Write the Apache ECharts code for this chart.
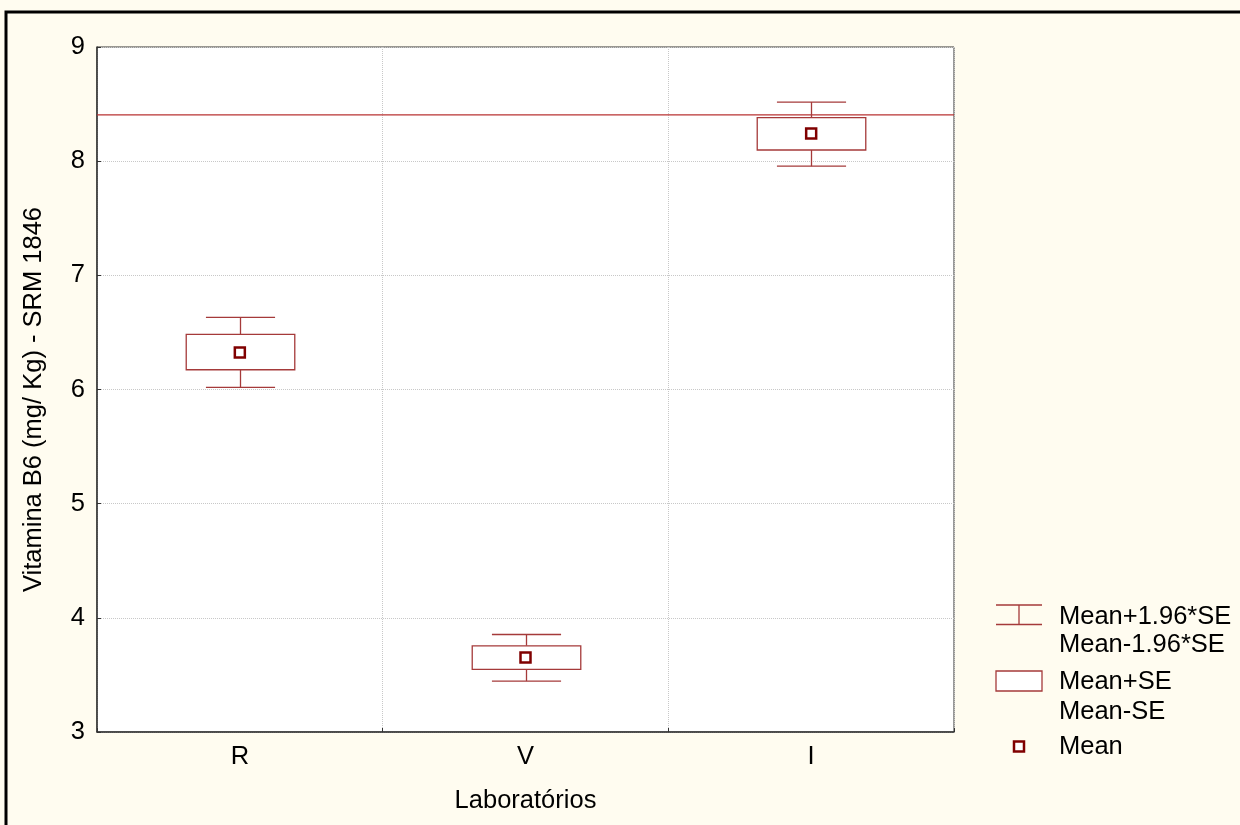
<!DOCTYPE html>
<html>
<head>
<meta charset="utf-8">
<script src="https://cdn.jsdelivr.net/npm/echarts@6/dist/echarts.min.js"></script>
<style>
html,body{margin:0;padding:0;background:#fffcf0;}
#chart{width:1240px;height:825px;}
</style>
</head>
<body>
<div id="chart"></div>
<script>
// ---- data ----
var categories = ['R', 'V', 'I'];
var meanValues = [6.325, 3.653, 8.242];
var seHigh = [6.483, 3.755, 8.382];
var seLow = [6.173, 3.548, 8.098];
var ciHigh = [6.632, 3.854, 8.518];
var ciLow = [6.019, 3.446, 7.956];
var refLine = [8.405];
var yTicks = [3, 9, 1]; // min, max, interval
var legendLabels = ['Mean+1.96*SE', 'Mean-1.96*SE', 'Mean+SE', 'Mean-SE', 'Mean'];

var FONT = 'Liberation Sans, Arial, sans-serif';
var FS = 25.5;
var LINE_COLOR = '#a53a3a';
var MEAN_COLOR = '#800000';
var REF_COLOR = '#b83232';

var boxData = categories.map(function (c, i) {
  return [i, ciLow[i], seLow[i], seHigh[i], ciHigh[i]];
});
var meanData = categories.map(function (c, i) { return [i, meanValues[i]]; });
var refData = [[0, refLine[0]], [1, refLine[0]]];

var chart = echarts.init(document.getElementById('chart'), null, {renderer: 'canvas'});

function renderBox(params, api) {
  var x = api.value(0);
  var pLow = api.coord([x, api.value(1)]);
  var pSeLow = api.coord([x, api.value(2)]);
  var pSeHigh = api.coord([x, api.value(3)]);
  var pHigh = api.coord([x, api.value(4)]);
  var band = api.size([1, 0])[0];
  var bw = band * 0.38;
  var cw = band * 0.242;
  var cx = Math.round(pLow[0]) + 0.5;
  var style = {stroke: LINE_COLOR, lineWidth: 1.3, fill: null};
  return {
    type: 'group',
    children: [
      {type: 'line', shape: {x1: cx, y1: pHigh[1], x2: cx, y2: pSeHigh[1]}, style: style},
      {type: 'line', shape: {x1: cx, y1: pSeLow[1], x2: cx, y2: pLow[1]}, style: style},
      {type: 'line', shape: {x1: cx - cw / 2, y1: pHigh[1], x2: cx + cw / 2, y2: pHigh[1]}, style: style},
      {type: 'line', shape: {x1: cx - cw / 2, y1: pLow[1], x2: cx + cw / 2, y2: pLow[1]}, style: style},
      {type: 'rect', shape: {x: cx - bw / 2, y: pSeHigh[1], width: bw, height: pSeLow[1] - pSeHigh[1]},
        style: {stroke: LINE_COLOR, lineWidth: 1.3, fill: '#ffffff'}}
    ]
  };
}

// legend graphics
var lx = 996, lw = 46, tx = 1059;
var tfont = FS + 'px ' + FONT;
var legendGraphic = [
  {type: 'line', shape: {x1: lx, y1: 605, x2: lx + lw, y2: 605}, style: {stroke: LINE_COLOR, lineWidth: 1.3}},
  {type: 'line', shape: {x1: lx, y1: 624.5, x2: lx + lw, y2: 624.5}, style: {stroke: LINE_COLOR, lineWidth: 1.3}},
  {type: 'line', shape: {x1: lx + lw / 2, y1: 605, x2: lx + lw / 2, y2: 624.5}, style: {stroke: LINE_COLOR, lineWidth: 1.3}},
  {type: 'text', x: tx, y: 616.5, style: {text: legendLabels[0], font: tfont, fill: '#000', textVerticalAlign: 'middle'}},
  {type: 'text', x: tx, y: 645, style: {text: legendLabels[1], font: tfont, fill: '#000', textVerticalAlign: 'middle'}},
  {type: 'rect', shape: {x: lx, y: 671, width: lw, height: 20}, style: {stroke: LINE_COLOR, lineWidth: 1.3, fill: '#fff'}},
  {type: 'text', x: tx, y: 681.5, style: {text: legendLabels[2], font: tfont, fill: '#000', textVerticalAlign: 'middle'}},
  {type: 'text', x: tx, y: 711.5, style: {text: legendLabels[3], font: tfont, fill: '#000', textVerticalAlign: 'middle'}},
  {type: 'rect', shape: {x: lx + lw / 2 - 5, y: 741.5, width: 10, height: 10}, style: {stroke: MEAN_COLOR, lineWidth: 2.5, fill: '#fff'}},
  {type: 'text', x: tx, y: 746.5, style: {text: legendLabels[4], font: tfont, fill: '#000', textVerticalAlign: 'middle'}},
  {type: 'rect', shape: {x: 6, y: 12, width: 1250, height: 830}, style: {stroke: '#000', lineWidth: 3, fill: null}, z: 100}
];

var option = {
  backgroundColor: '#fffcf0',
  animation: false,
  textStyle: {fontFamily: FONT},
  grid: {left: 97, top: 47, right: 286, bottom: 93, show: true, backgroundColor: '#ffffff', borderColor: '#333', borderWidth: 1},
  xAxis: [{
    type: 'category',
    data: categories,
    boundaryGap: true,
    name: 'Laboratórios',
    nameLocation: 'middle',
    nameGap: 56,
    nameTextStyle: {fontSize: FS, color: '#000', fontFamily: FONT},
    axisLine: {lineStyle: {color: '#333', width: 1.5}},
    axisTick: {show: true, inside: true, length: 4, lineStyle: {color: '#333'}},
    axisLabel: {fontSize: FS, color: '#000', margin: 12, fontFamily: FONT},
    splitLine: {show: true, lineStyle: {color: '#c8c8c8', type: 'dotted', width: 1}}
  }, {
    type: 'value',
    min: 0,
    max: 1,
    show: false
  }],
  yAxis: {
    type: 'value',
    min: yTicks[0],
    max: yTicks[1],
    interval: yTicks[2],
    name: 'Vitamina B6 (mg/ Kg) - SRM 1846',
    nameLocation: 'middle',
    nameGap: 50,
    nameTextStyle: {fontSize: FS, color: '#000', fontFamily: FONT, padding: [0, 20, 0, 0]},
    axisLine: {show: true, lineStyle: {color: '#333', width: 1.5}},
    axisTick: {show: true, inside: true, length: 4, lineStyle: {color: '#333'}},
    axisLabel: {fontSize: FS, color: '#000', margin: 12, fontFamily: FONT},
    splitLine: {show: true, lineStyle: {color: '#c8c8c8', type: 'dotted', width: 1}}
  },
  series: [
    {
      type: 'line',
      xAxisIndex: 1,
      data: refData,
      symbol: 'none',
      silent: true,
      lineStyle: {color: REF_COLOR, width: 1.2},
      z: 2
    },
    {
      type: 'custom',
      renderItem: renderBox,
      data: boxData,
      encode: {x: 0, y: [1, 2, 3, 4]},
      z: 3
    },
    {
      type: 'scatter',
      data: meanData,
      symbol: 'rect',
      symbolSize: 10,
      itemStyle: {color: '#ffffff', borderColor: MEAN_COLOR, borderWidth: 2.5, opacity: 1},
      z: 5
    }
  ],
  graphic: legendGraphic
};
chart.setOption(option);
</script>
</body>
</html>
